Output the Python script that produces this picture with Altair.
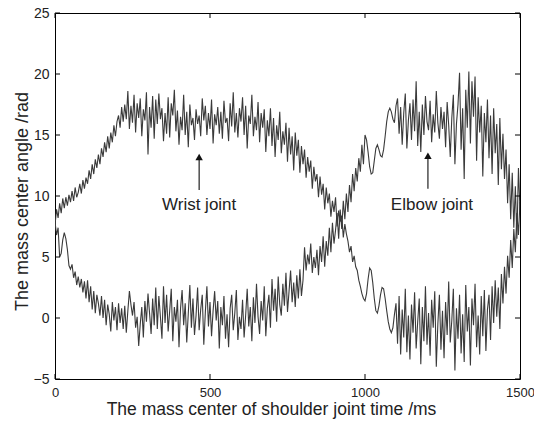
import altair as alt
import pandas as pd

# time axis (ms), one sample every 5 ms
time_ms = list(range(0, 1501, 5))

# Wrist joint trace (upper-left arc, lower-right arc)
wrist = [
    7.6, 8.9, 8.2, 9.4, 8.6, 9.8, 9.0, 9.9, 9.2, 10.1, 9.5,
    10.4, 9.6, 10.7, 9.9, 10.3, 11.0, 10.2, 11.3, 10.6, 11.5,
    11.0, 12.1, 11.4, 12.6, 11.8, 13.0, 12.3, 13.4, 12.6, 13.9,
    13.2, 14.4, 13.6, 14.9, 13.9, 15.2, 14.4, 15.8, 14.9, 16.1,
    16.6, 15.6, 17.3, 16.1, 17.5, 16.3, 18.6, 15.5, 17.4, 16.0,
    18.3, 15.2, 17.6, 16.4, 18.0, 14.9, 17.1, 16.2, 18.5, 13.4,
    17.3, 15.6, 18.2, 14.7, 17.9, 15.9, 18.4, 16.3, 17.2, 14.5,
    16.8, 15.1, 18.1, 14.8, 17.6, 16.6, 18.7, 15.3, 17.0, 14.2,
    16.5, 15.4, 18.3, 15.0, 16.9, 14.0, 17.5, 15.8, 16.4, 14.6,
    17.1, 15.9, 16.6, 14.9, 18.0, 16.2, 17.4, 15.0, 16.8, 15.5,
    17.9, 14.3, 16.7, 15.8, 17.3, 15.1, 16.9, 14.7, 17.8, 16.0,
    16.4, 14.5, 17.6, 15.7, 18.5, 15.2, 16.8, 14.8, 17.2, 16.1,
    18.1, 15.0, 17.4, 13.9, 16.6, 15.9, 18.3, 14.9, 16.5, 15.4,
    17.7, 14.4, 16.8, 15.6, 17.1, 13.6, 16.2, 14.9, 17.2, 14.1,
    16.4, 13.2, 15.8, 14.6, 16.9, 13.5, 15.3, 14.2, 16.0, 12.8,
    15.6, 13.4, 14.9, 12.1, 15.2, 13.3, 14.6, 11.9, 14.1, 12.6,
    13.8, 11.5, 13.2, 12.0, 12.9, 10.6, 12.4, 11.2, 11.8, 9.9,
    11.6, 10.1, 11.0, 8.9, 10.7, 9.4, 10.2, 8.3, 9.6, 8.7,
    9.9, 7.5, 8.8, 7.9, 8.4, 6.6, 7.7, 6.9, 6.3, 5.4,
    5.9, 4.6, 5.1, 4.2, 3.9, 3.1, 2.6, 2.0, 1.6, 1.4,
    2.0, 3.2, 4.1, 3.9, 2.9, 1.6, 0.6, 0.4, 1.0, 1.9,
    2.5, 2.4, 1.6, 0.6, -0.3, -0.9, -1.2, -0.8, 0.3, 1.2,
    -2.1, 1.8, -3.0, 0.7, -1.6, 2.4, -2.8, 0.2, -3.4, 1.1,
    -1.2, 2.1, -2.5, -0.3, 1.6, -3.8, 0.9, -1.9, 2.6, -2.2,
    0.4, -3.1, 1.5, -0.8, 2.2, -4.0, -0.5, 1.9, -2.6, 0.6,
    -3.3, 1.3, -1.4, 3.0, -2.0, -0.2, 2.4, -4.3, 0.8, -1.7,
    1.9, -2.9, 0.3, -3.6, 2.7, -1.1, 0.9, -3.9, 1.6, -0.6,
    2.8, -2.4, 0.2, -3.0, 1.8, -1.5, 2.3, -2.7, 0.7, 1.9,
    -1.8, 2.6, -0.4, 3.1, 0.1, 2.5, -0.9, 3.6, 1.2, 4.2,
    2.0, 5.1, 3.3, 6.4, 4.1, 7.3, 5.4, 8.6, 6.8, 9.5,
]

# Elbow joint trace (lower-left arc, upper-right arc)
elbow = [
    7.9, 6.8, 7.4, 5.0, 5.3, 6.4, 7.0, 6.5, 5.6, 4.3, 4.0,
    4.4, 3.3, 3.8, 2.7, 3.4, 2.5, 3.2, 2.1, 3.0, 1.6,
    3.1, 1.3, 2.6, 0.7, 2.2, 0.4, 1.9, 1.2, 0.2, 1.8,
    0.0, 1.5, -0.6, 1.1, 0.3, -1.1, 1.3, -0.2, 0.9, -1.0,
    1.2, -0.4, 0.8, -0.9, 1.0, -1.2, 0.6, 2.2, 1.1, 0.2,
    1.3, -0.8, 0.1, -2.3, -0.5, 0.9, -1.6, 1.4, -0.3, 2.0,
    0.4, -1.3, 1.6, -0.6, 2.5, -0.9, 1.8, 0.1, -1.7, 2.6,
    -0.4, 1.9, -1.1, 0.6, 2.4, -1.9, 0.9, -0.3, 1.5, -2.4,
    0.8, 2.3, -0.6, 1.2, -2.0, 0.4, 2.7, -0.8, 1.6, -1.4,
    0.2, 2.5, -1.0, 0.7, 1.9, -2.2, 0.5, 2.6, -0.7, 1.3,
    -1.5, 0.6, 2.2, -0.2, 1.4, -2.5, 0.9, -0.6, 1.8, -1.7,
    0.3, -2.4, 0.8, 1.9, -1.0, 0.4, 2.3, -1.8, 0.1, -0.9,
    1.5, -1.6, 0.2, 2.4, -0.7, 0.9, -1.9, 1.7, -0.4, 2.8,
    0.1, -1.3, 1.4, -0.2, 2.6, -1.5, 0.8, 1.9, -0.8, 3.2,
    0.6, 2.4, -0.3, 3.4, 1.1, 0.2, 2.8, 1.0, 3.7, 0.5,
    2.2, 3.9, 1.3, 2.9, 0.9, 3.5, 1.6, 4.0, 1.8, 3.1,
    5.8, 3.9, 5.2, 4.4, 6.1, 3.7, 5.0, 4.1, 5.6, 3.5,
    5.9, 4.6, 6.7, 4.2, 6.3, 5.1, 7.4, 5.4, 7.8, 6.1,
    7.2, 8.6, 6.5, 8.9, 7.3, 9.6, 8.1, 10.2, 8.7, 10.9,
    9.5, 11.8, 10.4, 12.3, 11.2, 13.1, 12.0, 14.2, 12.6, 15.0,
    14.6, 13.6, 12.4, 11.8, 11.9, 12.9, 13.9, 14.2, 13.8, 13.3,
    13.2, 13.8, 14.9, 16.1, 16.9, 17.2, 16.9, 16.3, 16.0, 17.4,
    18.0, 15.1, 17.3, 14.2, 16.8, 18.4, 13.9, 16.2, 17.6, 14.6,
    17.9, 15.3, 19.4, 14.1, 16.9, 13.6, 17.5, 15.0, 18.2, 16.1,
    15.4, 17.8, 14.4, 16.7, 15.2, 18.6, 16.0, 14.7, 17.3, 15.5,
    16.9, 14.0, 17.7, 15.8, 13.2, 16.4, 18.3, 12.6, 15.9, 17.5,
    20.1, 13.8, 17.2, 11.4, 18.7, 15.6, 20.2, 14.3, 19.4, 16.5,
    19.8, 12.9, 18.1, 15.2, 17.4, 11.6, 16.8, 14.4, 17.9, 13.1,
    16.6, 11.8, 17.2, 13.5, 15.9, 10.9, 16.4, 12.2, 15.1, 11.4,
    13.8, 9.4, 12.6, 8.1, 11.9, 7.4, 10.8, 6.5, 12.3, 8.8,
]

x_ticks = [0, 500, 1000, 1500]
y_ticks = [-5, 0, 5, 10, 15, 20, 25]

labels = ["Wrist joint", "Elbow joint"]
label_x = [465, 1216]
label_y = [9.25, 9.3]
arrow_x = [465, 1203]
arrow_y0 = [10.5, 10.6]
arrow_y1 = [13.0, 13.1]
arrow_tip = [13.2, 13.3]

W, H = 465, 366
FONT = "Liberation Sans"
X_TITLE = "The mass center of shoulder joint time /ms"
Y_TITLE = "The mass center angle /rad"

df = pd.DataFrame({
    "t": time_ms * 2,
    "v": wrist + elbow,
    "s": ["Wrist"] * len(wrist) + ["Elbow"] * len(elbow),
})
xt = pd.DataFrame({"t": x_ticks})
yt = pd.DataFrame({"v": y_ticks})
ann = pd.DataFrame({"label": labels, "t": label_x, "v": label_y,
                    "ax": arrow_x, "ay0": arrow_y0, "ay1": arrow_y1, "tip": arrow_tip})

xs = alt.Scale(domain=[0, 1500], nice=False, zero=False)
ys = alt.Scale(domain=[-5, 25], nice=False, zero=False)

x_axis = alt.Axis(
    values=x_ticks, format="d", ticks=False, domain=False, grid=False, labelPadding=7,
    title=X_TITLE, titlePadding=1, titleX=216, titleAlign="center",
    labelFontSize=13, titleFontSize=17.5, labelFont=FONT, titleFont=FONT,
    labelColor="#222", titleColor="#222", titleFontWeight="normal",
    labelFlush=False)
y_axis = alt.Axis(
    values=y_ticks, format="d", ticks=False, domain=False, grid=False, labelPadding=6,
    title=Y_TITLE, titlePadding=2, titleY=188, titleAlign="center",
    labelFontSize=14, titleFontSize=18, labelFont=FONT, titleFont=FONT,
    labelColor="#222", titleColor="#222", titleFontWeight="normal",
    labelFlush=False)

X = lambda f: alt.X(f, scale=xs, axis=x_axis, title=X_TITLE)
Y = lambda f: alt.Y(f, scale=ys, axis=y_axis, title=Y_TITLE)

lines = alt.Chart(df).mark_line(strokeWidth=1.1, color="#3a3a3a", clip=True).encode(
    x=X("t:Q"), y=Y("v:Q"), detail="s:N")

tb = alt.Chart(xt).mark_rule(color="black", strokeWidth=1).encode(
    x=X("t:Q"), y=alt.value(H), y2=alt.value(H - 5))
tt = alt.Chart(xt).mark_rule(color="black", strokeWidth=1).encode(
    x=X("t:Q"), y=alt.value(0), y2=alt.value(5))
tl = alt.Chart(yt).mark_rule(color="black", strokeWidth=1).encode(
    y=Y("v:Q"), x=alt.value(0), x2=alt.value(5))
tr = alt.Chart(yt).mark_rule(color="black", strokeWidth=1).encode(
    y=Y("v:Q"), x=alt.value(W - 5), x2=alt.value(W))

arrows = alt.Chart(ann).mark_rule(color="#222", strokeWidth=1.2).encode(
    x=X("ax:Q"), y=Y("ay0:Q"), y2="ay1:Q")
heads = alt.Chart(ann).mark_point(shape="triangle-up", filled=True, color="#111",
                                  size=55, opacity=1).encode(
    x=X("ax:Q"), y=Y("tip:Q"))
texts = alt.Chart(ann).mark_text(font=FONT, fontSize=17, color="#222",
                                 align="center", baseline="middle").encode(
    x=X("t:Q"), y=Y("v:Q"), text="label:N")

chart = alt.layer(lines, tb, tt, tl, tr, arrows, heads, texts).properties(
    width=W, height=H,
    autosize=alt.AutoSizeParams(type="none"),
    padding={"left": 55, "top": 13, "right": 14, "bottom": 45},
    background="white",
).configure_view(stroke="black", strokeWidth=1)

chart.save("out.html", embed_options={"renderer": "svg", "actions": False})
